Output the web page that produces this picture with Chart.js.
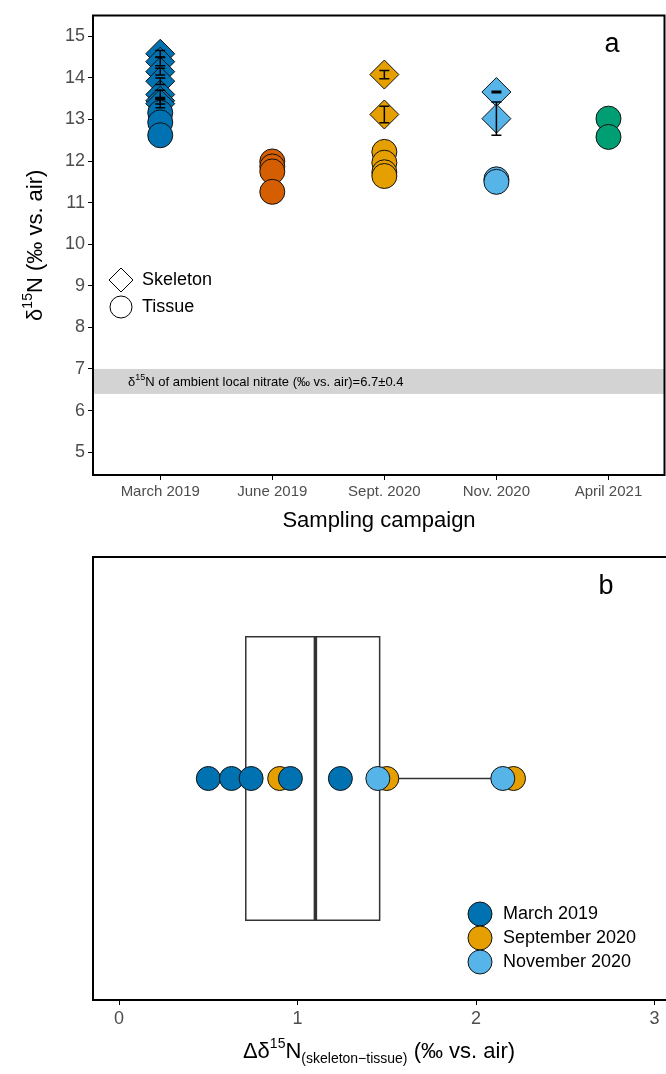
<!DOCTYPE html>
<html><head><meta charset="utf-8">
<script src="https://cdn.jsdelivr.net/npm/chart.js@4/dist/chart.umd.min.js"></script>
<style>html,body{margin:0;background:#fff;overflow:hidden}canvas{display:block}</style>
</head><body>
<div style="position:relative;width:680px;height:540px"><canvas id="a"></canvas></div>
<div style="position:relative;width:680px;height:534px"><canvas id="b"></canvas></div>
<script>
const campaigns = ['March 2019', 'June 2019', 'Sept. 2020', 'Nov. 2020', 'April 2021'];
const colors = ['#0072B2', '#D55E00', '#E69F00', '#56B4E9', '#009E73'];
// skeleton (diamonds) and tissue (circles) per campaign
const skeleton = [[14.58, 14.39, 14.15, 13.92, 13.6, 13.45, 13.38], [], [14.08, 13.12], [13.66, 13.02], []];
const skeletonErr = [[0.08, 0.1, 0.08, 0.08, 0.1, 0.08, 0.1], [], [0.1, 0.2], [0.02, 0.4], []];
const tissue = [[13.16, 12.93, 12.62], [11.99, 11.87, 11.75, 11.26], [12.22, 11.96, 11.73, 11.64], [11.56, 11.5], [13.02, 12.58]];
const nitrateBand = [6.4, 7.0];
const yTicksA = [5, 6, 7, 8, 9, 10, 11, 12, 13, 14, 15];

const deltaGroups = ['March 2019', 'September 2020', 'November 2020'];
const deltaColors = ['#0072B2', '#E69F00', '#56B4E9'];
const deltaValues = [[0.5, 0.63, 0.74, 0.96, 1.24], [0.9, 1.5, 2.21], [1.45, 2.15]];
const boxStats = [0.49, 0.71, 1.1, 1.46, 2.21]; // min, q1, median, q3, max

const frame = {
  id: 'frame',
  afterDraw(c) {
    const a = c.chartArea, x = c.ctx;
    x.save(); x.strokeStyle = '#000'; x.lineWidth = 2;
    x.strokeRect(a.left, a.top, a.right - a.left, a.bottom - a.top);
    x.restore();
  }
};

const dsA = [];
campaigns.forEach((n, i) => {
  if (tissue[i].length) dsA.push({ data: tissue[i].map(v => ({ x: i + 1, y: v })), pointStyle: 'circle', pointRadius: 12.5,
    backgroundColor: colors[i], borderColor: '#111', borderWidth: 1 });
});
campaigns.forEach((n, i) => {
  if (skeleton[i].length) dsA.push({ data: skeleton[i].map(v => ({ x: i + 1, y: v })), pointStyle: 'rectRot', pointRadius: 14.5,
    backgroundColor: colors[i], borderColor: '#111', borderWidth: 1, errs: skeletonErr[i] });
});

const extrasA = {
  id: 'extrasA',
  beforeDatasetsDraw(c) {
    const x = c.ctx, a = c.chartArea, ys = c.scales.y;
    x.save();
    x.fillStyle = '#d3d3d3';
    x.fillRect(a.left, ys.getPixelForValue(nitrateBand[1]), a.right - a.left, ys.getPixelForValue(nitrateBand[0]) - ys.getPixelForValue(nitrateBand[1]));
    const ty = ys.getPixelForValue((nitrateBand[0] + nitrateBand[1]) / 2) + 1;
    x.fillStyle = '#000'; x.textBaseline = 'middle';
    x.font = '13px Arial'; x.fillText('δ', 128, ty);
    let w = x.measureText('δ').width;
    x.font = '9px Arial'; x.fillText('15', 128 + w, ty - 5);
    w += x.measureText('15').width;
    x.font = '13px Arial'; x.fillText('N of ambient local nitrate (‰ vs. air)=6.7±0.4', 128 + w, ty);
    x.restore();
  },
  afterDatasetsDraw(c) {
    const x = c.ctx, xs = c.scales.x, ys = c.scales.y;
    x.save(); x.strokeStyle = '#000'; x.lineWidth = 1.5;
    c.data.datasets.forEach(d => {
      if (!d.errs) return;
      d.data.forEach((p, k) => {
        const px = xs.getPixelForValue(p.x), y1 = ys.getPixelForValue(p.y + d.errs[k]), y2 = ys.getPixelForValue(p.y - d.errs[k]);
        x.beginPath(); x.moveTo(px, y1); x.lineTo(px, y2);
        x.moveTo(px - 5, y1); x.lineTo(px + 5, y1); x.moveTo(px - 5, y2); x.lineTo(px + 5, y2); x.stroke();
      });
    });
    x.restore();
  },
  afterDraw(c) {
    const x = c.ctx, a = c.chartArea;
    x.save(); x.fillStyle = '#000';
    x.font = '27px Arial'; x.textAlign = 'center'; x.fillText('a', 612, 52);
    x.font = '22px Arial'; x.fillText('Sampling campaign', 379, 527);
    // y title
    x.translate(42, (a.top + a.bottom) / 2); x.rotate(-Math.PI / 2); x.textAlign = 'left';
    const p1 = 'δ', p3 = 'N (‰ vs. air)';
    x.font = '14px Arial'; const w2 = x.measureText('15').width; x.font = '22px Arial';
    const tot = x.measureText(p1).width + w2 + x.measureText(p3).width;
    let cx = -tot / 2;
    x.fillText(p1, cx, 0); cx += x.measureText(p1).width;
    x.font = '14px Arial'; x.fillText('15', cx, -10); cx += w2;
    x.font = '22px Arial'; x.fillText(p3, cx, 0);
    x.restore();
    // legend
    x.save(); x.strokeStyle = '#000'; x.lineWidth = 1; x.fillStyle = '#000'; x.font = '18px Arial'; x.textBaseline = 'middle';
    x.beginPath(); x.moveTo(121, 268); x.lineTo(133, 280); x.lineTo(121, 292); x.lineTo(109, 280); x.closePath(); x.stroke();
    x.beginPath(); x.arc(121, 307, 11, 0, 2 * Math.PI); x.stroke();
    x.fillText('Skeleton', 142, 280); x.fillText('Tissue', 142, 307);
    x.restore();
  }
};

new Chart(document.getElementById('a'), {
  type: 'scatter',
  data: { datasets: dsA },
  options: {
    animation: false, responsive: true, maintainAspectRatio: false,
    layout: { padding: { top: 8, right: 0, left: 0 } },
    plugins: { legend: { display: false }, tooltip: { enabled: false } },
    scales: {
      x: { type: 'linear', min: 0.4, max: 5.5, afterFit: s => { s.height = 65; },
        afterBuildTicks: s => { s.ticks = campaigns.map((n, i) => ({ value: i + 1 })); },
        ticks: { callback: v => campaigns[v - 1], color: '#4d4d4d', font: { size: 15, family: 'Arial' }, maxRotation: 0 },
        grid: { drawOnChartArea: false, color: '#000', tickLength: 5 }, border: { display: false } },
      y: { min: 4.45, max: 15.5, afterFit: s => { s.width = 93; },
        afterBuildTicks: s => { s.ticks = yTicksA.map(v => ({ value: v })); },
        ticks: { color: '#4d4d4d', font: { size: 18, family: 'Arial' } },
        grid: { drawOnChartArea: false, color: '#000', tickLength: 5 }, border: { display: false } }
    }
  },
  plugins: [frame, extrasA]
});

const dsB = deltaGroups.map((g, i) => ({
  label: g, data: deltaValues[i].map(v => ({ x: v, y: 0.5 })), pointStyle: 'circle', pointRadius: 12,
  backgroundColor: deltaColors[i], borderColor: '#111', borderWidth: 1
}));
// first dataset is drawn on top
const order = [2, 0, 1];

const extrasB = {
  id: 'extrasB',
  beforeDatasetsDraw(c) {
    const x = c.ctx, xs = c.scales.x, ys = c.scales.y;
    const yt = ys.getPixelForValue(0.82), yb = ys.getPixelForValue(0.18), ym = ys.getPixelForValue(0.5);
    const px = boxStats.map(v => xs.getPixelForValue(v));
    x.save(); x.strokeStyle = '#333'; x.lineWidth = 1.5;
    x.beginPath(); x.moveTo(px[0], ym); x.lineTo(px[1], ym); x.moveTo(px[3], ym); x.lineTo(px[4], ym); x.stroke();
    x.strokeRect(px[1], yt, px[3] - px[1], yb - yt);
    x.lineWidth = 3.5; x.beginPath(); x.moveTo(px[2], yt); x.lineTo(px[2], yb); x.stroke();
    x.restore();
  },
  afterDraw(c) {
    const x = c.ctx, a = c.chartArea;
    x.save(); x.fillStyle = '#000';
    x.font = '27px Arial'; x.textAlign = 'center'; x.fillText('b', 606, 54);
    x.textAlign = 'left';
    const t1 = 'Δδ', t3 = ' (‰ vs. air)';
    x.font = '14px Arial'; const wsup = x.measureText('15').width; const wsub = x.measureText('(skeleton−tissue)').width;
    x.font = '22px Arial';
    const tot = x.measureText(t1).width + wsup + x.measureText('N').width + wsub + x.measureText(t3).width;
    let cx = 379 - tot / 2; const by = 518;
    x.fillText(t1, cx, by); cx += x.measureText(t1).width;
    x.font = '14px Arial'; x.fillText('15', cx, by - 10); cx += wsup;
    x.font = '22px Arial'; x.fillText('N', cx, by); cx += x.measureText('N').width;
    x.font = '14px Arial'; x.fillText('(skeleton−tissue)', cx, by + 5); cx += wsub;
    x.font = '22px Arial'; x.fillText(t3, cx, by);
    // legend
    x.font = '18px Arial'; x.textBaseline = 'middle';
    deltaGroups.forEach((g, i) => {
      const ly = 374 + i * 24;
      x.beginPath(); x.arc(480, ly, 12, 0, 2 * Math.PI); x.fillStyle = deltaColors[i]; x.fill();
      x.strokeStyle = '#111'; x.lineWidth = 1; x.stroke();
      x.fillStyle = '#000'; x.fillText(g, 503, ly);
    });
    x.restore();
  }
};

new Chart(document.getElementById('b'), {
  type: 'scatter',
  data: { datasets: order.map(i => dsB[i]) },
  options: {
    animation: false, responsive: true, maintainAspectRatio: false,
    layout: { padding: { top: 17, right: 0, left: 0 } },
    plugins: { legend: { display: false }, tooltip: { enabled: false } },
    scales: {
      x: { type: 'linear', min: -0.146, max: 3.07, afterFit: s => { s.height = 74; },
        afterBuildTicks: s => { s.ticks = [0, 1, 2, 3].map(v => ({ value: v })); },
        ticks: { color: '#4d4d4d', font: { size: 18, family: 'Arial' } },
        grid: { drawOnChartArea: false, color: '#000', tickLength: 5 }, border: { display: false } },
      y: { min: 0, max: 1, afterFit: s => { s.width = 93; }, ticks: { display: false },
        grid: { display: false }, border: { display: false } }
    }
  },
  plugins: [frame, extrasB]
});
</script>
</body></html>
